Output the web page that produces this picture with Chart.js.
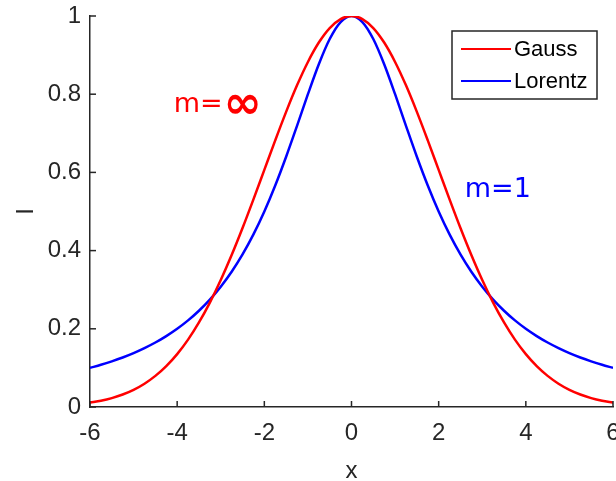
<!DOCTYPE html>
<html>
<head>
<meta charset="utf-8">
<script src="https://cdn.jsdelivr.net/npm/chart.js@4.4.1/dist/chart.umd.min.js"></script>
<style>
  html, body { margin: 0; padding: 0; background: #fff; }
  #wrap { width: 616px; height: 481px; }
</style>
</head>
<body>
<div id="wrap"><canvas id="chart" width="616" height="481"></canvas></div>
<script>
// x positions (step 0.25 from -6 to 6)
const xValues = [
  -6, -5.75, -5.5, -5.25, -5, -4.75, -4.5, -4.25, -4, -3.75, -3.5, -3.25,
  -3, -2.75, -2.5, -2.25, -2, -1.75, -1.5, -1.25, -1, -0.75, -0.5, -0.25,
  0, 0.25, 0.5, 0.75, 1, 1.25, 1.5, 1.75, 2, 2.25, 2.5, 2.75,
  3, 3.25, 3.5, 3.75, 4, 4.25, 4.5, 4.75, 5, 5.25, 5.5, 5.75, 6,
];

// Gauss profile (m = inf)
const gaussValues = [
  0.0111, 0.0160, 0.0228, 0.0319, 0.0439, 0.0596, 0.0796, 0.1046, 0.1353, 0.1724, 0.2163, 0.2671,
  0.3247, 0.3886, 0.4578, 0.5311, 0.6065, 0.6819, 0.7548, 0.8226, 0.8825, 0.9321, 0.9692, 0.9922,
  1,
  0.9922, 0.9692, 0.9321, 0.8825, 0.8226, 0.7548, 0.6819, 0.6065, 0.5311, 0.4578, 0.3886, 0.3247,
  0.2671, 0.2163, 0.1724, 0.1353, 0.1046, 0.0796, 0.0596, 0.0439, 0.0319, 0.0228, 0.0160, 0.0111,
];

// Lorentz profile (m = 1)
const lorentzValues = [
  0.1, 0.1079, 0.1168, 0.1267, 0.1379, 0.1506, 0.1649, 0.1813, 0.2, 0.2215, 0.2462, 0.2747,
  0.3077, 0.3459, 0.3902, 0.4414, 0.5, 0.5664, 0.64, 0.7191, 0.8, 0.8767, 0.9412, 0.9846,
  1,
  0.9846, 0.9412, 0.8767, 0.8, 0.7191, 0.64, 0.5664, 0.5, 0.4414, 0.3902, 0.3459, 0.3077,
  0.2747, 0.2462, 0.2215, 0.2, 0.1813, 0.1649, 0.1506, 0.1379, 0.1267, 0.1168, 0.1079, 0.1,
];

const seriesNames = ['Gauss', 'Lorentz'];
const noteLabels = ['m=', '\u221E', 'm=1'];

const AXIS = '#262626';
const FONT = "'Liberation Sans', Arial, sans-serif";
const NOTE_FONT = "'DejaVu Sans', sans-serif";

// MATLAB-style tick marks pointing into the plot
const innerTicks = {
  id: 'innerTicks',
  afterDatasetsDraw(chart) {
    const { ctx, chartArea: a, scales: { x, y } } = chart;
    ctx.save();
    ctx.strokeStyle = AXIS;
    ctx.lineWidth = 1.5;
    x.ticks.forEach((t) => {
      const px = x.getPixelForValue(t.value);
      ctx.beginPath(); ctx.moveTo(px, a.bottom); ctx.lineTo(px, a.bottom - 6); ctx.stroke();
    });
    y.ticks.forEach((t) => {
      const py = y.getPixelForValue(t.value);
      ctx.beginPath(); ctx.moveTo(a.left, py); ctx.lineTo(a.left + 6, py); ctx.stroke();
    });
    ctx.restore();
  },
};

// text labels placed in data coordinates
const notes = {
  id: 'notes',
  afterDatasetsDraw(chart, args, opts) {
    const { ctx, scales: { x, y } } = chart;
    ctx.save();
    ctx.textBaseline = 'middle';
    opts.items.forEach((n) => {
      let px = x.getPixelForValue(n.x);
      const py = y.getPixelForValue(n.y);
      ctx.fillStyle = n.color;
      n.parts.forEach((p) => {
        ctx.font = p.font;
        ctx.fillText(p.text, px, py + (p.dy || 0));
        px += ctx.measureText(p.text).width + (p.gap || 0);
      });
    });
    ctx.restore();
  },
};

// boxed legend in the upper right corner
const boxLegend = {
  id: 'boxLegend',
  afterDraw(chart) {
    const { ctx, chartArea: a } = chart;
    const left = a.right - 161, top = a.top + 15, w = 145, h = 68;
    ctx.save();
    ctx.fillStyle = '#fff';
    ctx.fillRect(left, top, w, h);
    ctx.strokeStyle = AXIS;
    ctx.lineWidth = 1.5;
    ctx.strokeRect(left, top, w, h);
    ctx.font = '22px ' + FONT;
    ctx.textBaseline = 'middle';
    chart.data.datasets.forEach((ds, i) => {
      const ly = top + 18 + i * 32;
      ctx.strokeStyle = ds.borderColor;
      ctx.lineWidth = 2;
      ctx.beginPath(); ctx.moveTo(left + 9, ly); ctx.lineTo(left + 59, ly); ctx.stroke();
      ctx.fillStyle = '#000';
      ctx.fillText(ds.label, left + 62, ly + 1);
    });
    ctx.restore();
  },
};

const tickLabel = (v) => String(Number(Number(v).toFixed(1)));

new Chart(document.getElementById('chart'), {
  type: 'line',
  data: {
    datasets: [
      {
        label: seriesNames[0],
        data: xValues.map((v, i) => ({ x: v, y: gaussValues[i] })),
        borderColor: '#ff0000',
        borderWidth: 2.5,
        pointRadius: 0,
        cubicInterpolationMode: 'monotone',
      },
      {
        label: seriesNames[1],
        data: xValues.map((v, i) => ({ x: v, y: lorentzValues[i] })),
        borderColor: '#0000ff',
        borderWidth: 2.5,
        pointRadius: 0,
        cubicInterpolationMode: 'monotone',
      },
    ],
  },
  options: {
    responsive: false,
    animation: false,
    layout: { padding: { top: 16, right: 3, left: 0, bottom: 0 } },
    plugins: {
      legend: { display: false },
      tooltip: { enabled: false },
      notes: {
        items: [
          {
            x: -4.08, y: 0.772, color: '#ff0000',
            parts: [
              { text: noteLabels[0], font: '27px ' + NOTE_FONT, gap: 1 },
              { text: noteLabels[1], font: 'bold 46px ' + NOTE_FONT, dy: 1 },
            ],
          },
          {
            x: 2.6, y: 0.554, color: '#0000ff',
            parts: [{ text: noteLabels[2], font: '27px ' + NOTE_FONT }],
          },
        ],
      },
    },
    scales: {
      x: {
        type: 'linear',
        min: -6,
        max: 6,
        afterFit: (s) => { s.height = 74; s.paddingLeft = 0; s.paddingRight = 0; },
        grid: { display: false, drawTicks: false },
        border: { display: true, color: AXIS, width: 1.5 },
        ticks: { stepSize: 2, color: AXIS, padding: 12, maxRotation: 0, callback: tickLabel, font: { family: FONT, size: 24 } },
        title: { display: true, text: 'x', color: AXIS, font: { family: FONT, size: 24 }, padding: { top: 0, bottom: -5 } },
      },
      y: {
        min: 0,
        max: 1,
        afterFit: (s) => { s.width = 90; s.paddingTop = 0; s.paddingBottom = 0; },
        grid: { display: false, drawTicks: false },
        border: { display: true, color: AXIS, width: 1.5 },
        ticks: { stepSize: 0.2, color: AXIS, padding: 9, callback: tickLabel, font: { family: FONT, size: 24 } },
        title: { display: true, text: 'I', color: AXIS, font: { family: FONT, size: 24 }, padding: { top: 12, bottom: 0 } },
      },
    },
  },
  plugins: [innerTicks, notes, boxLegend],
});
</script>
</body>
</html>
